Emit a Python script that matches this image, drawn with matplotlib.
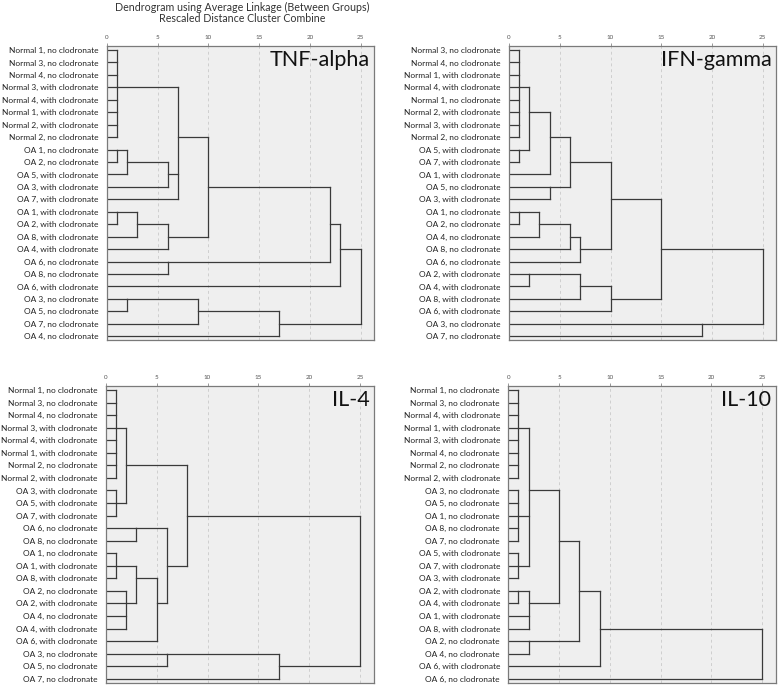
import numpy as np
import matplotlib
matplotlib.use("Agg")
import matplotlib.pyplot as plt

plt.rcParams['font.family'] = ['Lato', 'DejaVu Sans']

# leaf order (top to bottom) and merges: (child ids..., rescaled distance)
# ids < 24 are leaves, 24+k is the k-th merge
tnf_labels = [
    "Normal 1, no clodronate", "Normal 3, no clodronate", "Normal 4, no clodronate",
    "Normal 3, with clodronate", "Normal 4, with clodronate", "Normal 1, with clodronate",
    "Normal 2, with clodronate", "Normal 2, no clodronate", "OA 1, no clodronate",
    "OA 2, no clodronate", "OA 5, with clodronate", "OA 3, with clodronate",
    "OA 7, with clodronate", "OA 1, with clodronate", "OA 2, with clodronate",
    "OA 8, with clodronate", "OA 4, with clodronate", "OA 6, no clodronate",
    "OA 8, no clodronate", "OA 6, with clodronate", "OA 3, no clodronate",
    "OA 5, no clodronate", "OA 7, no clodronate", "OA 4, no clodronate",
]
tnf_merges = [
    (0, 1, 2, 3, 4, 5, 6, 7, 1), (8, 9, 1), (25, 10, 2), (26, 11, 6),
    (24, 27, 12, 7), (13, 14, 1), (29, 15, 3), (30, 16, 6), (28, 31, 10),
    (17, 18, 6), (32, 33, 22), (34, 19, 23), (20, 21, 2), (36, 22, 9),
    (37, 23, 17), (35, 38, 25),
]

ifn_labels = [
    "Normal 3, no clodronate", "Normal 4, no clodronate", "Normal 1, with clodronate",
    "Normal 4, with clodronate", "Normal 1, no clodronate", "Normal 2, with clodronate",
    "Normal 3, with clodronate", "Normal 2, no clodronate", "OA 5, with clodronate",
    "OA 7, with clodronate", "OA 1, with clodronate", "OA 5, no clodronate",
    "OA 3, with clodronate", "OA 1, no clodronate", "OA 2, no clodronate",
    "OA 4, no clodronate", "OA 8, no clodronate", "OA 6, no clodronate",
    "OA 2, with clodronate", "OA 4, with clodronate", "OA 8, with clodronate",
    "OA 6, with clodronate", "OA 3, no clodronate", "OA 7, no clodronate",
]
ifn_merges = [
    (0, 1, 2, 3, 4, 5, 6, 7, 1), (8, 9, 1), (24, 25, 2), (26, 10, 4),
    (11, 12, 4), (27, 28, 6), (13, 14, 1), (30, 15, 3), (31, 16, 6),
    (32, 17, 7), (29, 33, 10), (18, 19, 2), (35, 20, 7), (36, 21, 10),
    (34, 37, 15), (22, 23, 19), (38, 39, 25),
]

il4_labels = [
    "Normal 1, no clodronate", "Normal 3, no clodronate", "Normal 4, no clodronate",
    "Normal 3, with clodronate", "Normal 4, with clodronate", "Normal 1, with clodronate",
    "Normal 2, no clodronate", "Normal 2, with clodronate", "OA 3, with clodronate",
    "OA 5, with clodronate", "OA 7, with clodronate", "OA 6, no clodronate",
    "OA 8, no clodronate", "OA 1, no clodronate", "OA 1, with clodronate",
    "OA 8, with clodronate", "OA 2, no clodronate", "OA 2, with clodronate",
    "OA 4, no clodronate", "OA 4, with clodronate", "OA 6, with clodronate",
    "OA 3, no clodronate", "OA 5, no clodronate", "OA 7, no clodronate",
]
il4_merges = [
    (0, 1, 2, 3, 4, 5, 6, 7, 1), (8, 9, 10, 1), (24, 25, 2), (11, 12, 3),
    (13, 14, 15, 1), (16, 17, 18, 19, 2), (28, 29, 3), (30, 20, 5),
    (27, 31, 6), (26, 32, 8), (21, 22, 6), (34, 23, 17), (33, 35, 25),
]

il10_labels = [
    "Normal 1, no clodronate", "Normal 3, no clodronate", "Normal 4, with clodronate",
    "Normal 1, with clodronate", "Normal 3, with clodronate", "Normal 4, no clodronate",
    "Normal 2, no clodronate", "Normal 2, with clodronate", "OA 3, no clodronate",
    "OA 5, no clodronate", "OA 1, no clodronate", "OA 8, no clodronate",
    "OA 7, no clodronate", "OA 5, with clodronate", "OA 7, with clodronate",
    "OA 3, with clodronate", "OA 2, with clodronate", "OA 4, with clodronate",
    "OA 1, with clodronate", "OA 8, with clodronate", "OA 2, no clodronate",
    "OA 4, no clodronate", "OA 6, with clodronate", "OA 6, no clodronate",
]
il10_merges = [
    (0, 1, 2, 3, 4, 5, 6, 7, 1), (8, 9, 10, 11, 12, 1), (13, 14, 15, 1),
    (24, 25, 26, 2), (16, 17, 1), (28, 18, 19, 2), (27, 29, 5), (20, 21, 2),
    (30, 31, 7), (32, 22, 9), (33, 23, 25),
]

xticks = [0, 5, 10, 15, 20, 25]

LINE = "#3a3a3a"


def draw_dendro(ax, labels, merges, name):
    n = len(labels)
    pos = {i: (0.0, float(i)) for i in range(n)}
    for k, m in enumerate(merges):
        kids, h = m[:-1], m[-1]
        ys = [pos[c][1] for c in kids]
        for c in kids:
            x, y = pos[c]
            ax.plot([x, h], [y, y], color=LINE, lw=0.9, solid_capstyle="projecting")
        ax.plot([h, h], [min(ys), max(ys)], color=LINE, lw=0.9,
                solid_capstyle="projecting")
        pos[n + k] = (h, np.floor((min(ys) + max(ys)) / 2))

    ax.set_facecolor("#efefef")
    ax.set_xlim(0, 26.3)
    ax.set_ylim(n - 1 + 0.3, -0.35)
    for g in xticks[1:]:
        ax.axvline(g, color="#cfcfcf", lw=0.7, ls=(0, (3, 3)), zorder=0)

    ax.xaxis.tick_top()
    ax.set_xticks(xticks)
    ax.tick_params(axis="x", labelsize=4.5, labelcolor="#555555", length=2.5,
                   width=0.6, color="#888888", pad=1.5)
    ax.set_yticks(range(n))
    ax.set_yticklabels(labels)
    ax.tick_params(axis="y", labelsize=6, labelcolor="#222222", length=0, pad=6)
    for s in ax.spines.values():
        s.set_color("#7a7a7a")
        s.set_linewidth(0.9)

    ax.text(0.985, 0.985, name, transform=ax.transAxes, ha="right", va="top",
            fontsize=15.5, color="#111111")


fig = plt.figure(figsize=(7.78, 6.85), dpi=100)
W, H = 778.0, 685.0


def add_panel(left, top, right, bottom):
    return fig.add_axes([left / W, 1 - bottom / H, (right - left) / W, (bottom - top) / H])


ax1 = add_panel(106.7, 45.7, 374, 340)
ax2 = add_panel(509, 45.7, 776, 340)
ax3 = add_panel(105.7, 385.7, 373.5, 682.5)
ax4 = add_panel(508.3, 385.7, 775.5, 682.5)

draw_dendro(ax1, tnf_labels, tnf_merges, "TNF-alpha")
draw_dendro(ax2, ifn_labels, ifn_merges, "IFN-gamma")
draw_dendro(ax3, il4_labels, il4_merges, "IL-4")
draw_dendro(ax4, il10_labels, il10_merges, "IL-10")

fig.text(242 / W, 1 - 7 / H, "Dendrogram using Average Linkage (Between Groups)",
         ha="center", va="center", fontsize=7.7, color="#333333")
fig.text(242 / W, 1 - 19 / H, "Rescaled Distance Cluster Combine",
         ha="center", va="center", fontsize=7.7, color="#333333")

fig.savefig("out.png", dpi=100)
